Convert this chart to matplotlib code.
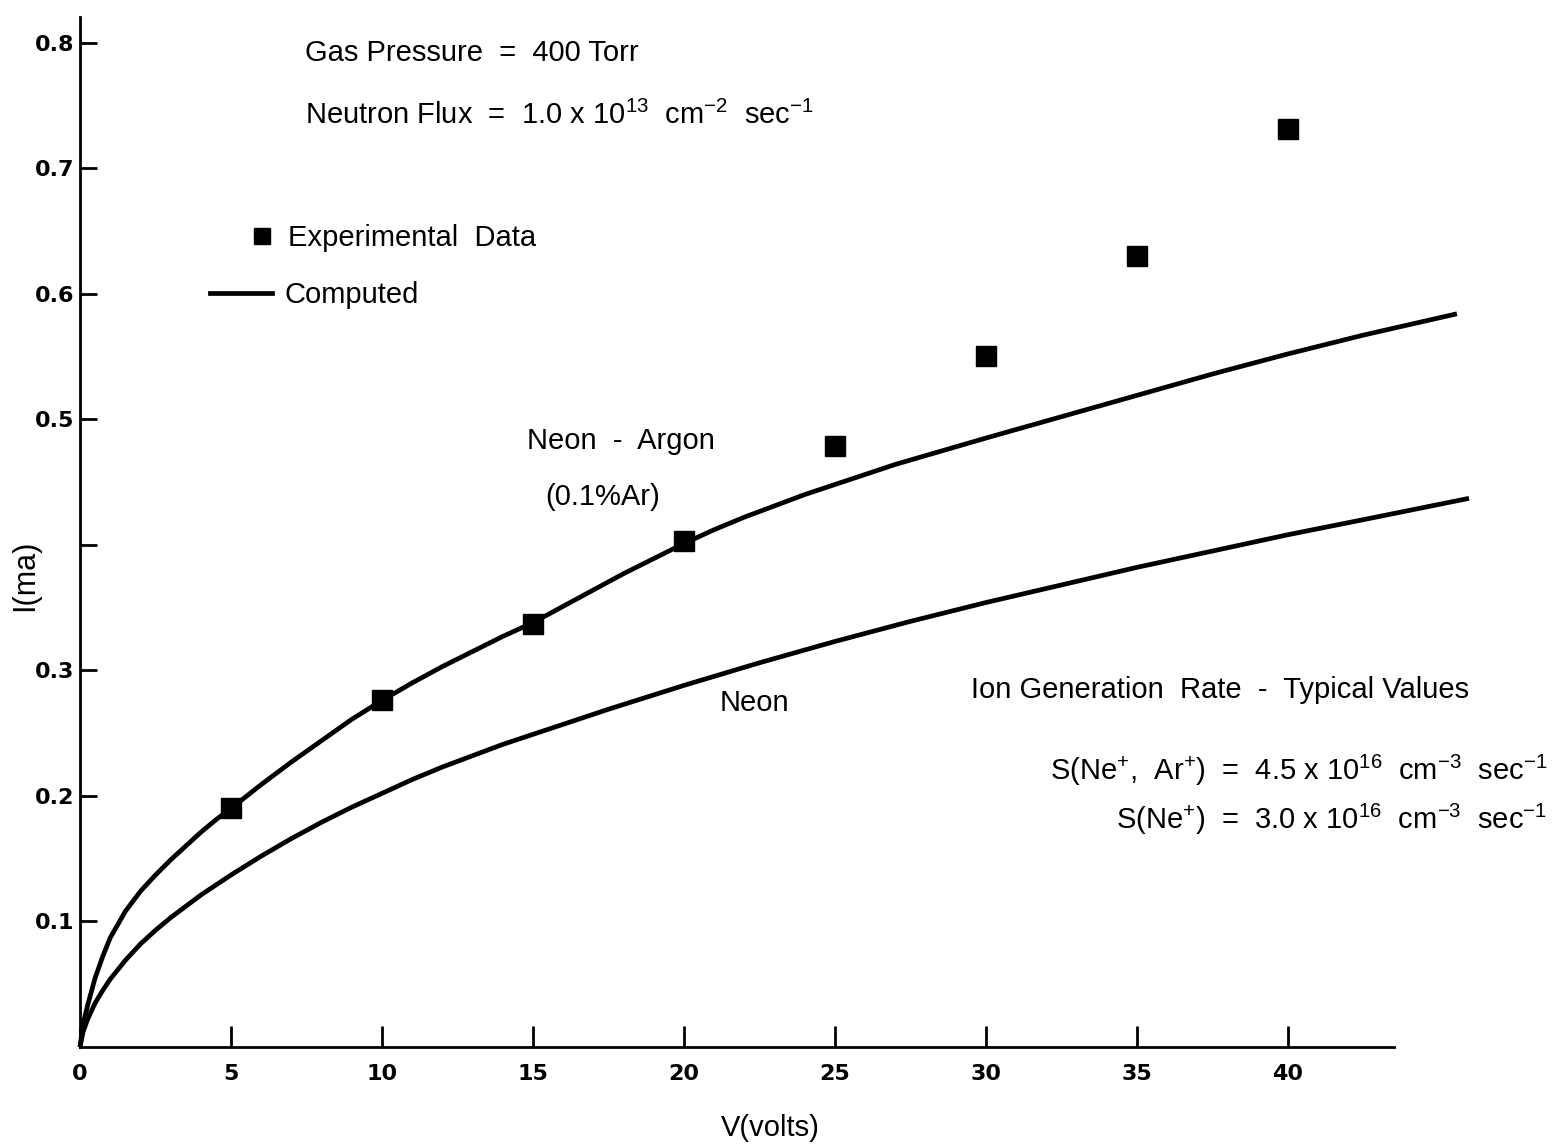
import matplotlib
matplotlib.use('Agg')
import matplotlib.pyplot as plt
from matplotlib.lines import Line2D

plt.rcParams['font.family'] = ['Liberation Sans', 'DejaVu Sans']
plt.rcParams['mathtext.fontset'] = 'custom'
plt.rcParams['mathtext.rm'] = 'Liberation Sans'

# experimental data (squares)
exp_v = [5, 10, 15, 20, 25, 30, 35, 40]
exp_i = [0.190, 0.276, 0.337, 0.403, 0.479, 0.550, 0.630, 0.731]

# computed curve, neon - argon (0.1% Ar)
ar_v = [0, 0.1, 0.25, 0.5, 0.75, 1, 1.5, 2, 2.5, 3, 3.5, 4, 4.5, 5,
        6, 7, 8, 9, 10, 11, 12, 13, 14, 15, 16, 17, 18, 19, 20,
        21, 22, 23, 24, 25, 26, 27, 28, 29, 30, 32.5, 35, 37.5, 40, 42.5, 45.6]
ar_i = [0, 0.018, 0.033, 0.055, 0.072, 0.087, 0.108, 0.124, 0.137, 0.149,
        0.160, 0.171, 0.181, 0.190,
        0.209, 0.227, 0.244, 0.261, 0.276, 0.290, 0.303, 0.315, 0.327,
        0.338, 0.351, 0.364, 0.377, 0.389, 0.401,
        0.412, 0.422, 0.431, 0.440, 0.448, 0.456, 0.464, 0.471, 0.478,
        0.485, 0.502, 0.519, 0.536, 0.552, 0.567, 0.584]

# computed curve, pure neon
ne_v = [0, 0.1, 0.25, 0.5, 0.75, 1, 1.5, 2, 2.5, 3, 3.5, 4, 4.5, 5,
        6, 7, 8, 9, 10, 11, 12, 13, 14, 15, 17.5, 20, 22.5, 25, 27.5,
        30, 32.5, 35, 37.5, 40, 42.5, 46]
ne_i = [0, 0.012, 0.022, 0.035, 0.045, 0.054, 0.069, 0.082, 0.093, 0.103,
        0.112, 0.121, 0.129, 0.137,
        0.152, 0.166, 0.179, 0.191, 0.202, 0.213, 0.223, 0.232, 0.241,
        0.249, 0.269, 0.288, 0.306, 0.323, 0.339,
        0.354, 0.368, 0.382, 0.395, 0.408, 0.420, 0.437]

xticks = [0, 5, 10, 15, 20, 25, 30, 35, 40]
xticklabels = ['0', '5', '10', '15', '20', '25', '30', '35', '40']
yticks = [0.1, 0.2, 0.3, 0.4, 0.5, 0.6, 0.7, 0.8]
yticklabels = ['0.1', '0.2', '0.3', '', '0.5', '0.6', '0.7', '0.8']

fig = plt.figure(figsize=(15.66, 11.47), dpi=100)
ax = fig.add_axes([0.0511, 0.0872, 0.8966, 0.9085])

ax.plot(ar_v, ar_i, color='black', lw=3.4, solid_capstyle='butt', clip_on=False)
ax.plot(ne_v, ne_i, color='black', lw=3.4, solid_capstyle='butt', clip_on=False)
ax.plot(exp_v, exp_i, 's', color='black', ms=14, clip_on=False)

ax.set_xlim(0, 46.5)
ax.set_ylim(0, 0.83)
ax.spines['top'].set_visible(False)
ax.spines['right'].set_visible(False)
ax.spines['left'].set_bounds(0, 0.82)
ax.spines['bottom'].set_bounds(0, 43.5)
ax.spines['left'].set_linewidth(2)
ax.spines['bottom'].set_linewidth(2)

ax.set_xticks(xticks)
ax.set_xticklabels(xticklabels)
ax.set_yticks(yticks)
ax.set_yticklabels(yticklabels)
ax.tick_params(axis='x', direction='in', length=15, width=2, pad=12)
ax.tick_params(axis='y', direction='in', length=12, width=2, pad=4)
for lab in ax.get_xticklabels() + ax.get_yticklabels():
    lab.set_family('DejaVu Sans')
    lab.set_fontweight('bold')
    lab.set_fontsize(16)

txt = dict(fontsize=21, color='black')
ax.text(7.45, 0.792, 'Gas Pressure  =  400 Torr', va='center', **txt)
ax.text(7.45, 0.742, r'Neutron Flux  =  1.0 x 10$^{\mathregular{13}}$  cm$^{\mathregular{-2}}$  sec$^{\mathregular{-1}}$',
        va='center', **txt)
ax.text(17.9, 0.483, 'Neon  -  Argon', ha='center', va='center', **txt)
ax.text(17.3, 0.438, '(0.1%Ar)', ha='center', va='center', **txt)
ax.text(22.35, 0.274, 'Neon', ha='center', va='center', **txt)
ax.text(29.5, 0.284, 'Ion Generation  Rate  -  Typical Values', va='center', **txt)
ax.text(48.6, 0.2205, r'S(Ne$^{\mathregular{+}}$,  Ar$^{\mathregular{+}}$)  =  4.5 x 10$^{\mathregular{16}}$  cm$^{\mathregular{-3}}$  sec$^{\mathregular{-1}}$',
        ha='right', va='center', **txt)
ax.text(48.6, 0.181, r'S(Ne$^{\mathregular{+}}$)  =  3.0 x 10$^{\mathregular{16}}$  cm$^{\mathregular{-3}}$  sec$^{\mathregular{-1}}$',
        ha='right', va='center', **txt)

# legend: two pieces so the square and the line sit like the original
leg1 = ax.legend([Line2D([], [], marker='s', ls='none', color='black', ms=12)],
                 ['Experimental  Data'], loc='center left', bbox_to_anchor=(0.1175, 0.7764),
                 frameon=False, fontsize=21, numpoints=1, handlelength=1.16,
                 handletextpad=0.3, borderpad=0, borderaxespad=0)
ax.add_artist(leg1)
ax.legend([Line2D([], [], color='black', lw=3.4)], ['Computed'], loc='center left',
          bbox_to_anchor=(0.0926, 0.7217), frameon=False, fontsize=21,
          handlelength=2.12, handletextpad=0.45, borderpad=0, borderaxespad=0)

fig.text(0.016, 0.4987, 'I(ma)', rotation=90, ha='center', va='center', fontsize=22)
fig.text(0.492, 0.0166, 'V(volts)', ha='center', va='center', fontsize=21)

fig.savefig('out.png', dpi=100, facecolor='white')
